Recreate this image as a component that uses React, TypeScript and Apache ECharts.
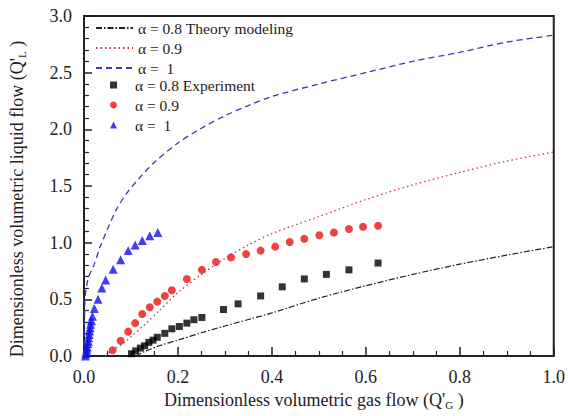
import React, { useEffect, useRef } from "react";
import * as echarts from "echarts";

// Theory curves
const theory08X = [0.11, 0.13, 0.16, 0.2, 0.25, 0.3, 0.4, 0.5, 0.6, 0.7, 0.8, 0.9, 1.0];
const theory08Y = [0, 0.04, 0.09, 0.14, 0.205, 0.265, 0.38, 0.51, 0.62, 0.72, 0.81, 0.89, 0.965];

const theory09X = [0.045, 0.06, 0.08, 0.1, 0.13, 0.16, 0.2, 0.25, 0.3, 0.35, 0.4, 0.5, 0.6, 0.7, 0.8, 0.9, 1.0];
const theory09Y = [0, 0.05, 0.1, 0.17, 0.28, 0.4, 0.56, 0.72, 0.86, 0.98, 1.08, 1.23, 1.38, 1.51, 1.62, 1.72, 1.8];

const theory1X = [0, 0.002, 0.005, 0.01, 0.02, 0.035, 0.05, 0.07, 0.09, 0.12, 0.15, 0.2, 0.25, 0.3, 0.35, 0.4, 0.5, 0.6, 0.7, 0.8, 0.9, 1.0];
const theory1Y = [0, 0.5, 0.6, 0.7, 0.79, 0.97, 1.12, 1.3, 1.43, 1.58, 1.71, 1.88, 2.01, 2.12, 2.21, 2.29, 2.4, 2.5, 2.6, 2.68, 2.77, 2.83];

// Experiment
const exp08X = [0.101, 0.11, 0.12, 0.129, 0.138, 0.147, 0.156, 0.172, 0.187, 0.203, 0.219, 0.234, 0.251, 0.297, 0.328, 0.376, 0.422, 0.469, 0.516, 0.564, 0.626];
const exp08Y = [0.02, 0.045, 0.07, 0.09, 0.12, 0.14, 0.165, 0.2, 0.24, 0.26, 0.29, 0.32, 0.34, 0.41, 0.46, 0.53, 0.61, 0.68, 0.72, 0.76, 0.82];

const exp09X = [0.061, 0.078, 0.094, 0.109, 0.124, 0.14, 0.156, 0.172, 0.187, 0.219, 0.251, 0.281, 0.313, 0.345, 0.376, 0.407, 0.438, 0.469, 0.501, 0.532, 0.564, 0.594, 0.626];
const exp09Y = [0.05, 0.135, 0.215, 0.29, 0.37, 0.43, 0.48, 0.53, 0.58, 0.68, 0.76, 0.83, 0.87, 0.9, 0.93, 0.965, 1.006, 1.035, 1.065, 1.09, 1.12, 1.14, 1.15];

const exp1X = [0.003, 0.004, 0.005, 0.006, 0.007, 0.008, 0.009, 0.01, 0.011, 0.012, 0.013, 0.014, 0.016, 0.018, 0.022, 0.03, 0.038, 0.046, 0.062, 0.078, 0.094, 0.109, 0.124, 0.14, 0.157];
const exp1Y = [0, 0.02, 0.04, 0.06, 0.08, 0.11, 0.13, 0.16, 0.19, 0.22, 0.25, 0.28, 0.31, 0.35, 0.42, 0.5, 0.6, 0.67, 0.765, 0.85, 0.93, 0.98, 1.02, 1.06, 1.09];

const legendLabels: Record<string, string> = {
  t08: "α = 0.8 Theory modeling",
  t09: "α = 0.9",
  t1: "α =  1",
  e08: "α = 0.8 Experiment",
  e09: "α = 0.9",
  e1: "α =  1",
};

const xTicks = ["0.0", "0.2", "0.4", "0.6", "0.8", "1.0"];

const zip = (xs: number[], ys: number[]) => xs.map((x, i) => [x, ys[i]]);

const FONT = "Liberation Serif";
const TXT = "#222";

export default function App() {
  const ref = useRef<HTMLDivElement>(null);
  useEffect(() => {
    if (!ref.current) return;
    const chart = echarts.init(ref.current, undefined, { renderer: "svg" });
    chart.setOption({
      animation: false,
      backgroundColor: "#fff",
      grid: {
        left: 84,
        right: 11,
        top: 16,
        bottom: 60,
        show: true,
        borderColor: "#222",
        borderWidth: 2,
      },
      legend: [
        {
          orient: "vertical",
          left: 95,
          top: 20,
          padding: 0,
          itemWidth: 37,
          itemHeight: 14,
          itemGap: 4,
          data: ["t08", "t09", "t1"],
          formatter: (n: string) => legendLabels[n],
          itemStyle: { opacity: 0 },
          textStyle: { fontFamily: FONT, fontSize: 15.5, color: TXT },
          selectedMode: false,
        },
        {
          orient: "vertical",
          left: 110,
          top: 77,
          padding: 0,
          itemWidth: 7,
          itemHeight: 7,
          itemGap: 4,
          data: ["e08", "e09", "e1"],
          formatter: (n: string) => legendLabels[n],
          textStyle: { fontFamily: FONT, fontSize: 15.5, color: TXT, padding: [0, 0, 0, 13] },
          selectedMode: false,
        },
      ],
      xAxis: {
        type: "value",
        min: 0,
        max: 1,
        interval: 0.2,
        name: "Dimensionless volumetric gas flow (Q'{sub|G} )",
        nameLocation: "middle",
        nameGap: 34,
        nameTextStyle: {
          fontFamily: FONT,
          fontSize: 18,
          color: TXT,
          padding: [0, 10, 0, 0],
          rich: {
            sub: { fontFamily: FONT, fontSize: 11, color: TXT, padding: [9, 0, 0, 0] },
          },
        },
        axisLine: { show: true, lineStyle: { color: "#222", width: 2 } },
        axisTick: { show: true, inside: true, length: 9, lineStyle: { color: "#222", width: 1.5 } },
        minorTick: { show: true, splitNumber: 4, length: 5, lineStyle: { color: "#222", width: 1.2 } },
        splitLine: { show: false },
        axisLabel: {
          margin: 12,
          fontFamily: FONT,
          fontSize: 18,
          color: TXT,
          formatter: (v: number) => xTicks[Math.round(v / 0.2)] ?? v.toFixed(1),
        },
      },
      yAxis: {
        type: "value",
        min: 0,
        max: 3,
        interval: 0.5,
        name: "Dimensionless volumetric liquid flow (Q'{sub|L} )",
        nameLocation: "middle",
        nameGap: 57,
        nameTextStyle: {
          fontFamily: FONT,
          fontSize: 18,
          color: TXT,
          padding: [0, 26, 0, 0],
          rich: {
            sub: { fontFamily: FONT, fontSize: 11, color: TXT, padding: [9, 0, 0, 0] },
          },
        },
        axisLine: { show: true, lineStyle: { color: "#222", width: 2 } },
        axisTick: { show: true, inside: true, length: 8, lineStyle: { color: "#222", width: 1.5 } },
        minorTick: { show: true, splitNumber: 5, length: 5, lineStyle: { color: "#222", width: 1.2 } },
        splitLine: { show: false },
        axisLabel: {
          margin: 12,
          fontFamily: FONT,
          fontSize: 18,
          color: TXT,
          formatter: (v: number) => v.toFixed(1),
        },
      },
      series: [
        {
          name: "t08",
          type: "line",
          data: zip(theory08X, theory08Y),
          smooth: 0.3,
          symbol: "none",
          lineStyle: { color: "#222", width: 1.2, type: [6, 2, 1.5, 2] },
          itemStyle: { color: "#222" },
        },
        {
          name: "t09",
          type: "line",
          data: zip(theory09X, theory09Y),
          smooth: 0.3,
          symbol: "none",
          lineStyle: { color: "#c8305a", width: 1.3, type: [1.5, 3] },
          itemStyle: { color: "#c8305a" },
        },
        {
          name: "t1",
          type: "line",
          data: zip(theory1X, theory1Y),
          smooth: 0.3,
          symbol: "none",
          lineStyle: { color: "#3a3ab0", width: 1.3, type: [6, 4] },
          itemStyle: { color: "#3a3ab0" },
        },
        {
          name: "e08",
          type: "scatter",
          data: zip(exp08X, exp08Y),
          symbol: "rect",
          symbolSize: 7,
          itemStyle: { color: "#000" },
        },
        {
          name: "e09",
          type: "scatter",
          data: zip(exp09X, exp09Y),
          symbol: "circle",
          symbolSize: 8,
          itemStyle: { color: "#ee1111" },
        },
        {
          name: "e1",
          type: "scatter",
          data: zip(exp1X, exp1Y),
          symbol: "triangle",
          symbolSize: 9,
          itemStyle: { color: "#1010ee" },
        },
      ],
    });
    return () => chart.dispose();
  }, []);
  return (
    <div
      ref={ref}
      style={{ position: "absolute", left: 0, top: 0, width: 568, height: 416 }}
    />
  );
}
